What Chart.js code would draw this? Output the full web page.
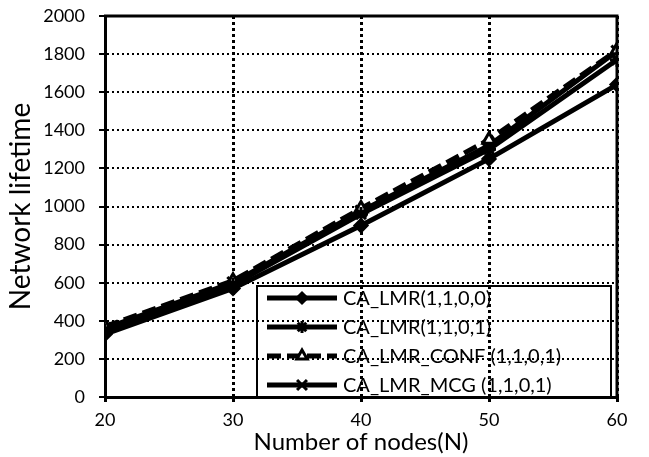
<!DOCTYPE html>
<html><head><meta charset="utf-8">
<script src="https://cdn.jsdelivr.net/npm/chart.js@4/dist/chart.umd.min.js"></script>
<style>html,body{margin:0;padding:0;background:#fff}#wrap{width:649px;height:457px}</style>
</head><body><div id="wrap"><canvas id="c" width="649" height="457"></canvas></div>
<script>
const nodes = [20, 30, 40, 50, 60];
const lmr1100 = [330, 570, 900, 1250, 1640];
const lmr1101 = [350, 590, 960, 1300, 1770];
const lmrConf = [370, 610, 990, 1350, 1820];
const lmrMcg = [360, 600, 975, 1320, 1815];
const seriesNames = ['CA_LMR(1,1,0,0)', 'CA_LMR(1,1,0,1)', 'CA_LMR_CONF (1,1,0,1)', 'CA_LMR_MCG (1,1,0,1)'];
const yTicks = [0, 200, 400, 600, 800, 1000, 1200, 1400, 1600, 1800, 2000];
const xTitle = 'Number of nodes(N)';
const yTitle = 'Network lifetime';

const FONT = "Lato, 'Open Sans', sans-serif";
function pts(v){ return nodes.map((x,i)=>({x:x,y:v[i]})); }
const styles = [
  {pointStyle:'rectRot', r:6, dash:[]},
  {pointStyle:'star', r:7, dash:[]},
  {pointStyle:'triangle', r:7, dash:[14,6]},
  {pointStyle:'crossRot', r:8, dash:[]}
];
const vals = [lmr1100, lmr1101, lmrConf, lmrMcg];
const datasets = vals.map((v,i)=>({
  label: seriesNames[i], data: pts(v),
  borderColor:'#000', backgroundColor:'#000', borderWidth:5,
  borderDash: styles[i].dash, pointStyle: styles[i].pointStyle,
  pointRadius: styles[i].r, pointBorderWidth: 3,
  pointBackgroundColor: i===2 ? '#fff' : '#000', pointBorderColor:'#000', tension:0
}));

const legendPlugin = {
  id:'inLegend',
  afterDraw(chart){
    const ctx = chart.ctx;
    const x0 = 257, y0 = 286, x1 = 611, y1 = chart.chartArea.bottom;
    ctx.save();
    ctx.strokeStyle = '#000'; ctx.lineWidth = 2;
    ctx.strokeRect(x0, y0, x1-x0, y1-y0);
    ctx.font = "20px " + FONT; ctx.fillStyle = '#000'; ctx.textBaseline = 'middle';
    datasets.forEach((d,i)=>{
      const cy = y0 + 12 + i*29;
      ctx.beginPath(); ctx.lineWidth = 5; ctx.strokeStyle='#000'; ctx.setLineDash(d.borderDash);
      ctx.moveTo(x0+10, cy); ctx.lineTo(x0+80, cy); ctx.stroke();
      ctx.setLineDash([]);
      ctx.lineWidth = 3; ctx.fillStyle = d.pointBackgroundColor;
      Chart.helpers.drawPoint(ctx, {pointStyle:d.pointStyle, radius:d.pointRadius-1, rotation:0, borderWidth:3}, x0+45, cy);
      ctx.fillStyle = '#000';
      ctx.fillText(d.label, x0+86, cy+1);
    });
    ctx.restore();
  }
};

new Chart(document.getElementById('c'), {
  type:'line',
  data:{datasets},
  options:{
    responsive:false, animation:false,
    layout:{padding:{top:16, right:32, left:0, bottom:0}},
    plugins:{legend:{display:false}, tooltip:{enabled:false}},
    scales:{
      x:{type:'linear', min:20, max:60,
        ticks:{stepSize:10, color:'#000', font:{size:18, family:FONT}, padding:6, callback:v=>String(v)},
        grid:{color:'#000', lineWidth:3, drawTicks:true, tickLength:6, tickBorderDash:[3,3], tickColor:'#000', tickWidth:3},
        border:{display:true, color:'#000', width:3, dash:[3,3]},
        title:{display:true, text:xTitle, color:'#000', font:{size:24, family:FONT}, padding:{top:-12, bottom:0}},
        afterFit(s){ s.height = 60; s.paddingLeft = 0; s.paddingRight = 0; }
      },
      y:{min:0, max:2000,
        afterBuildTicks(s){ s.ticks = yTicks.map(v=>({value:v})); },
        ticks:{color:'#000', font:{size:18, family:FONT}, padding:14, callback:v=>String(v)},
        grid:{color:'#000', lineWidth:2, tickBorderDash:[], tickColor:'#000', tickLength:6, tickWidth:2},
        border:{display:true, color:'#000', width:3, dash:[2,3]},
        title:{display:true, text:yTitle, color:'#000', font:{size:28, family:FONT}, padding:{top:4,bottom:0}},
        afterFit(s){ s.width = 105; s.paddingTop = 0; s.paddingBottom = 0; }
      }
    }
  },
  plugins:[legendPlugin, {
    id:'frame',
    afterDatasetsDraw(chart){
      const ctx=chart.ctx, ca=chart.chartArea;
      ctx.save(); ctx.strokeStyle='#000'; ctx.lineWidth=3;
      ctx.beginPath(); ctx.moveTo(ca.left-1, ca.top); ctx.lineTo(ca.right, ca.top); ctx.lineTo(ca.right, ca.bottom); ctx.stroke();
      ctx.restore();
    }
  }]
});
</script></body></html>
